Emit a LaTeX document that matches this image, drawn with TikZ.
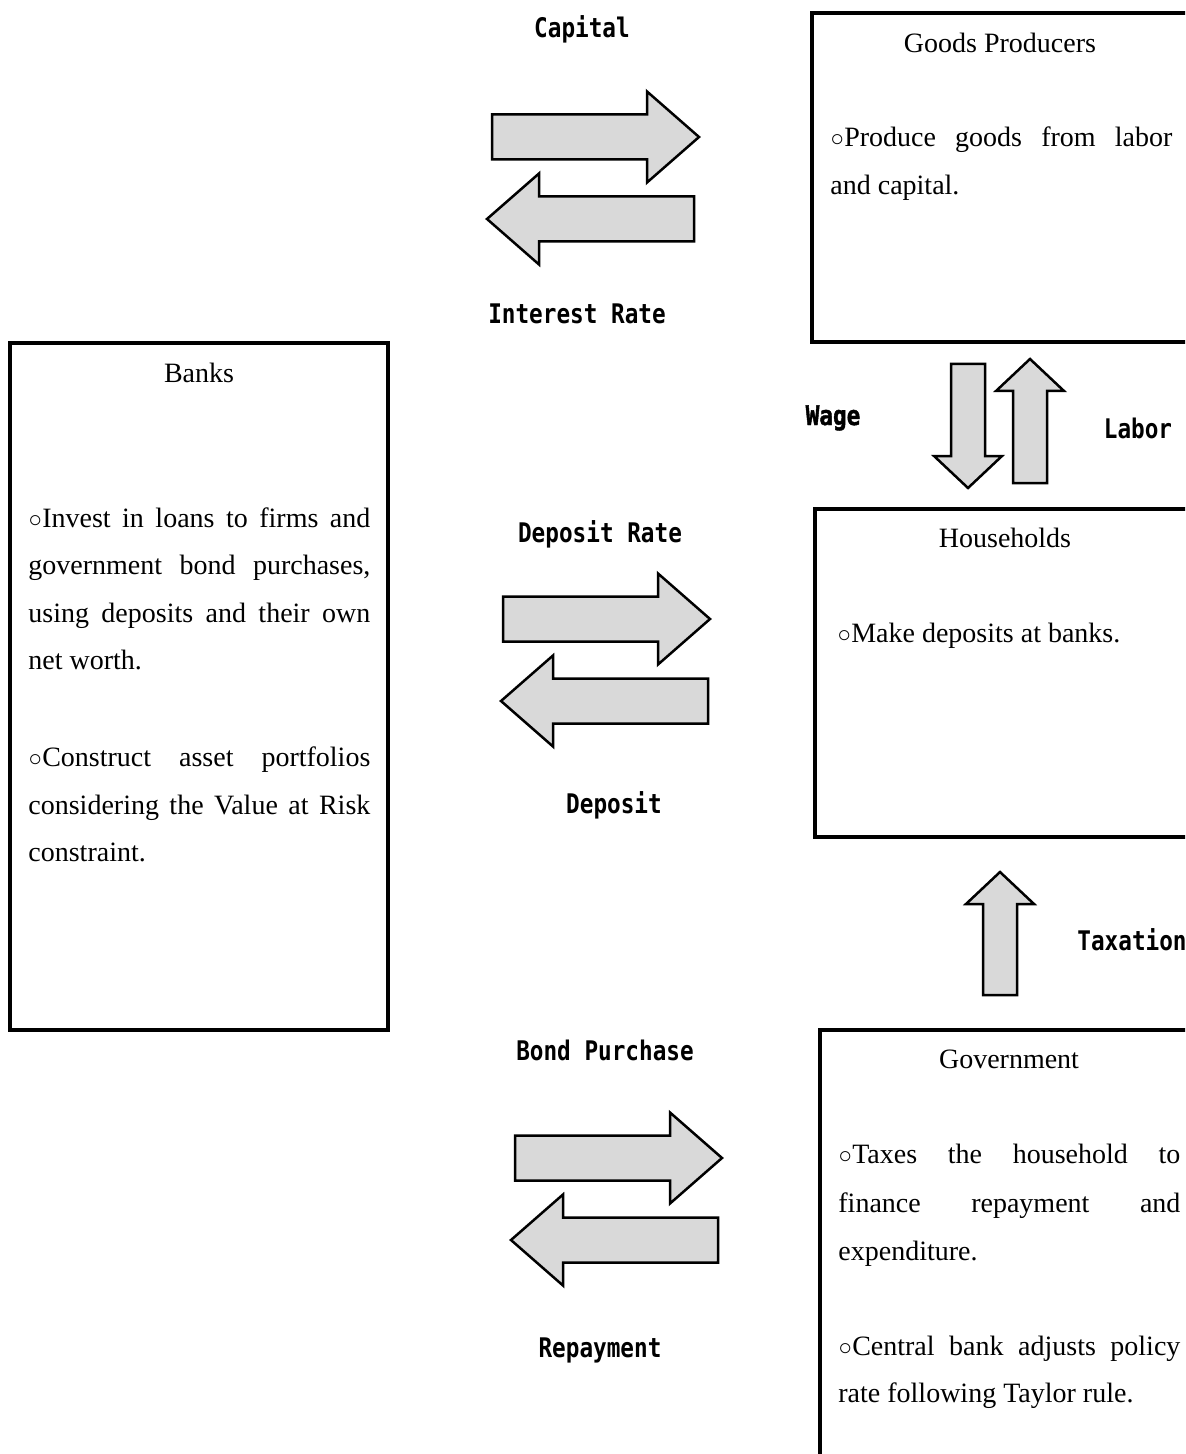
\documentclass[tikz,border=0pt]{standalone}
\usepackage{fontspec}
\setmainfont{Liberation Serif}
\newfontfamily\lblfont[FakeStretch=0.84]{DejaVu Sans Mono}
\newfontfamily\wagefont[FakeStretch=0.84,FakeBold=1.5]{DejaVu Sans Mono Bold}
\definecolor{arrowgray}{HTML}{D9D9D9}
\newcommand\bul{\scalebox{0.82}{○}}
\newcommand\blkR[2]{\draw[blk] (#1-207,#2-22.5) -- (#1-52,#2-22.5) -- (#1-52,#2-45.5) -- (#1,#2) -- (#1-52,#2+45.5) -- (#1-52,#2+22.5) -- (#1-207,#2+22.5) -- cycle;}
\newcommand\blkL[2]{\draw[blk] (#1+207,#2-22.5) -- (#1+52,#2-22.5) -- (#1+52,#2-45.5) -- (#1,#2) -- (#1+52,#2+45.5) -- (#1+52,#2+22.5) -- (#1+207,#2+22.5) -- cycle;}
\newcommand\blkU[3]{\draw[blk] (#1-17,#3) -- (#1-17,#2+32) -- (#1-34,#2+32) -- (#1,#2) -- (#1+34,#2+32) -- (#1+17,#2+32) -- (#1+17,#3) -- cycle;}
\newcommand\blkD[3]{\draw[blk] (#1-17,#3) -- (#1-17,#2-32) -- (#1-34,#2-32) -- (#1,#2) -- (#1+34,#2-32) -- (#1+17,#2-32) -- (#1+17,#3) -- cycle;}
\newcommand\jline[1]{\makebox[171pt][s]{#1}}
\begin{document}
\begin{tikzpicture}[x=0.5pt,y=-0.5pt,
  box/.style={draw, line width=1.75pt, anchor=north west, inner sep=0, outer sep=0},
  blk/.style={draw, line width=1.25pt, fill=arrowgray, line join=miter},
  ttl/.style={anchor=base, font=\fontsize{14}{16}\selectfont, inner sep=0},
  ln/.style={anchor=base west, font=\fontsize{14}{16}\selectfont, inner sep=0},
  lbl/.style={anchor=base, font=\lblfont\bfseries\fontsize{13.5}{15}\selectfont, inner sep=0},
  wlbl/.style={anchor=base, font=\wagefont\fontsize{13.5}{15}\selectfont, inner sep=0}]
\useasboundingbox (0,0) rectangle (1185,1454);
\clip (0,0) rectangle (1185,1454);
% boxes
\node[box, minimum width=189pt, minimum height=164.5pt] (goods) at (812,13) {};
\node[box, minimum width=189pt, minimum height=343.5pt] (banks) at (10,343) {};
\node[box, minimum width=189pt, minimum height=164pt] (house) at (815,509) {};
\node[box, minimum width=189pt, minimum height=230pt] (gov) at (820,1030) {};
% Goods Producers
\node[ttl] (gp-t) at (1000,53) {Goods Producers};
\node[ln] (gp-1) at (830,147) {\jline{\bul Produce goods from labor}};
\node[ln] (gp-2) at (830,195) {and capital.};
% Banks
\node[ttl] (bk-t) at (199,383) {Banks};
\node[ln] (bk-1) at (28,527) {\jline{\bul Invest in loans to firms and}};
\node[ln] (bk-2) at (28,574) {\jline{government bond purchases,}};
\node[ln] (bk-3) at (28,622) {\jline{using deposits and their own}};
\node[ln] (bk-4) at (28,669) {net worth.};
\node[ln] (bk-5) at (28,766) {\jline{\bul Construct asset portfolios}};
\node[ln] (bk-6) at (28,814) {\jline{considering the Value at Risk}};
\node[ln] (bk-7) at (28,861) {constraint.};
% Households
\node[ttl] (hh-t) at (1005,547) {Households};
\node[ln] (hh-1) at (837,642) {\bul Make deposits at banks.};
% Government
\node[ttl] (gv-t) at (1009,1068) {Government};
\node[ln] (gv-1) at (838,1163) {\jline{\bul Taxes the household to}};
\node[ln] (gv-2) at (838,1212) {\jline{finance repayment and}};
\node[ln] (gv-3) at (838,1260) {expenditure.};
\node[ln] (gv-4) at (838,1355) {\jline{\bul Central bank adjusts policy}};
\node[ln] (gv-5) at (838,1402) {rate following Taylor rule.};
% block arrows
\blkR{699}{137}
\blkL{487}{219}
\blkR{710}{619}
\blkL{501}{701}
\blkR{722}{1158}
\blkL{511}{1240}
\blkD{968}{488}{364}
\blkU{1030}{359}{483}
\blkU{1000}{872}{995}
% labels
\node[lbl] (l-cap) at (582,38) {Capital};
\node[lbl] (l-int) at (577,324) {Interest Rate};
\node[lbl] (l-dr) at (600,542) {Deposit Rate};
\node[lbl] (l-dep) at (614,813) {Deposit};
\node[lbl] (l-bp) at (605,1060) {Bond Purchase};
\node[lbl] (l-rep) at (600,1357) {Repayment};
\node[wlbl] (l-wage) at (833,425) {Wage};
\node[lbl] (l-lab) at (1138,438) {Labor};
\node[lbl] (l-tax) at (1132,950) {Taxation};
\end{tikzpicture}
\end{document}
